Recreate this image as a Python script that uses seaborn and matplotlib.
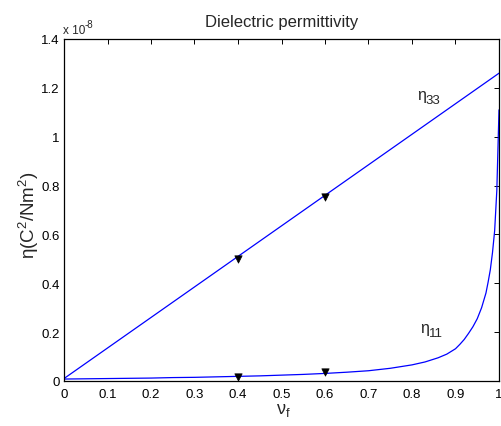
import matplotlib
matplotlib.use("Agg")
import matplotlib.pyplot as plt
import numpy as np
import pandas as pd
import seaborn as sns

# Fibre volume fraction and effective dielectric permittivity (units of 1e-8 C^2/Nm^2)
vf_33 = [0.0, 0.1, 0.2, 0.3, 0.4, 0.5, 0.6, 0.7, 0.8, 0.9, 1.0]
eta_33 = [0.010, 0.135, 0.260, 0.385, 0.510, 0.635, 0.760, 0.885, 1.010, 1.135, 1.260]

vf_11 = [0.0, 0.05, 0.1, 0.15, 0.2, 0.25, 0.3, 0.35, 0.4, 0.45, 0.5, 0.55, 0.6,
         0.65, 0.7, 0.75, 0.8, 0.83, 0.86, 0.88, 0.9, 0.91, 0.92, 0.93, 0.94,
         0.95, 0.96, 0.97, 0.975, 0.98, 0.985, 0.99, 0.995, 1.0]
eta_11 = [0.008, 0.009, 0.010, 0.011, 0.012, 0.014, 0.015, 0.017, 0.019, 0.021,
          0.024, 0.027, 0.031, 0.036, 0.042, 0.052, 0.066, 0.078, 0.095, 0.110,
          0.132, 0.150, 0.170, 0.195, 0.222, 0.255, 0.300, 0.360, 0.405, 0.455,
          0.525, 0.615, 0.780, 1.110]

# Discrete reference points
pts_vf = [0.4, 0.6, 0.4, 0.6]
pts_eta = [0.500, 0.755, 0.016, 0.038]

xticks = [0, 0.1, 0.2, 0.3, 0.4, 0.5, 0.6, 0.7, 0.8, 0.9, 1]
xtick_labels = ["0", "0.1", "0.2", "0.3", "0.4", "0.5", "0.6", "0.7", "0.8", "0.9", "1"]
yticks = [0, 0.2, 0.4, 0.6, 0.8, 1.0, 1.2, 1.4]
ytick_labels = ["0", "0.2", "0.4", "0.6", "0.8", "1", "1.2", "1.4"]

sns.set_style("white")
plt.rcParams["font.family"] = ["Liberation Sans", "DejaVu Sans"]
plt.rcParams["mathtext.fontset"] = "custom"
plt.rcParams["mathtext.rm"] = "Liberation Sans"
plt.rcParams["mathtext.it"] = "Liberation Sans:italic"
plt.rcParams["mathtext.bf"] = "Liberation Sans:bold"

df33 = pd.DataFrame({"vf": vf_33, "eta": eta_33})
df11 = pd.DataFrame({"vf": vf_11, "eta": eta_11})
dfp = pd.DataFrame({"vf": pts_vf, "eta": pts_eta})

fig = plt.figure(figsize=(5.02, 4.27), dpi=100)
ax = fig.add_axes([64 / 502, 1 - 382 / 427, 435 / 502, 342 / 427])

sns.lineplot(data=df33, x="vf", y="eta", ax=ax, color="#0000ff", lw=0.9,
             sort=False, estimator=None)
sns.lineplot(data=df11, x="vf", y="eta", ax=ax, color="#0000ff", lw=0.9,
             sort=False, estimator=None)
sns.scatterplot(data=dfp, x="vf", y="eta", ax=ax, marker="v", color="black",
                s=28, edgecolor="black", linewidth=0.5, zorder=5)

ax.set_xlim(0, 1)
ax.set_ylim(0, 1.4)
ax.set_xticks(xticks)
ax.set_xticklabels(xtick_labels)
ax.set_yticks(yticks)
ax.set_yticklabels(ytick_labels)
ax.tick_params(direction="in", top=True, right=True, length=3.8, width=0.7,
               labelsize=9.5, colors="black")
ax.tick_params(axis="x", pad=5)
ax.tick_params(axis="y", pad=3)
for sp in ax.spines.values():
    sp.set_visible(True)
    sp.set_color("black")
    sp.set_linewidth(0.9)

ax.set_title("Dielectric permittivity", fontsize=12, pad=9)
ax.set_xlabel("")
ax.set_ylabel("")

# Axis labels
fig.text(283 / 502, 1 - 411 / 427, r"ν$_\mathrm{f}$", fontsize=13,
         ha="center", va="center")
fig.text(29 / 502, 1 - 215 / 427, r"η(C$^\mathrm{2}$/Nm$^\mathrm{2}$)",
         fontsize=13.5, rotation=90, ha="center", va="center")

# Exponent for the y axis
fig.text(63 / 502, 1 - 34 / 427, "x 10", fontsize=8.5, ha="left", va="baseline")
fig.text(85 / 502, 1 - 28 / 427, "-8", fontsize=7, ha="left", va="baseline")

# Curve labels
def curve_label(x, y, sub):
    ax.text(x, y, "η", fontsize=11.5, ha="left", va="baseline")
    ax.annotate(sub, (x, y), xytext=(6.2, -3), textcoords="offset points",
                fontsize=9.5, ha="left", va="baseline")

curve_label(0.812, 1.155, "33")
curve_label(0.819, 0.20, "11")

fig.savefig("out.png", dpi=100)
